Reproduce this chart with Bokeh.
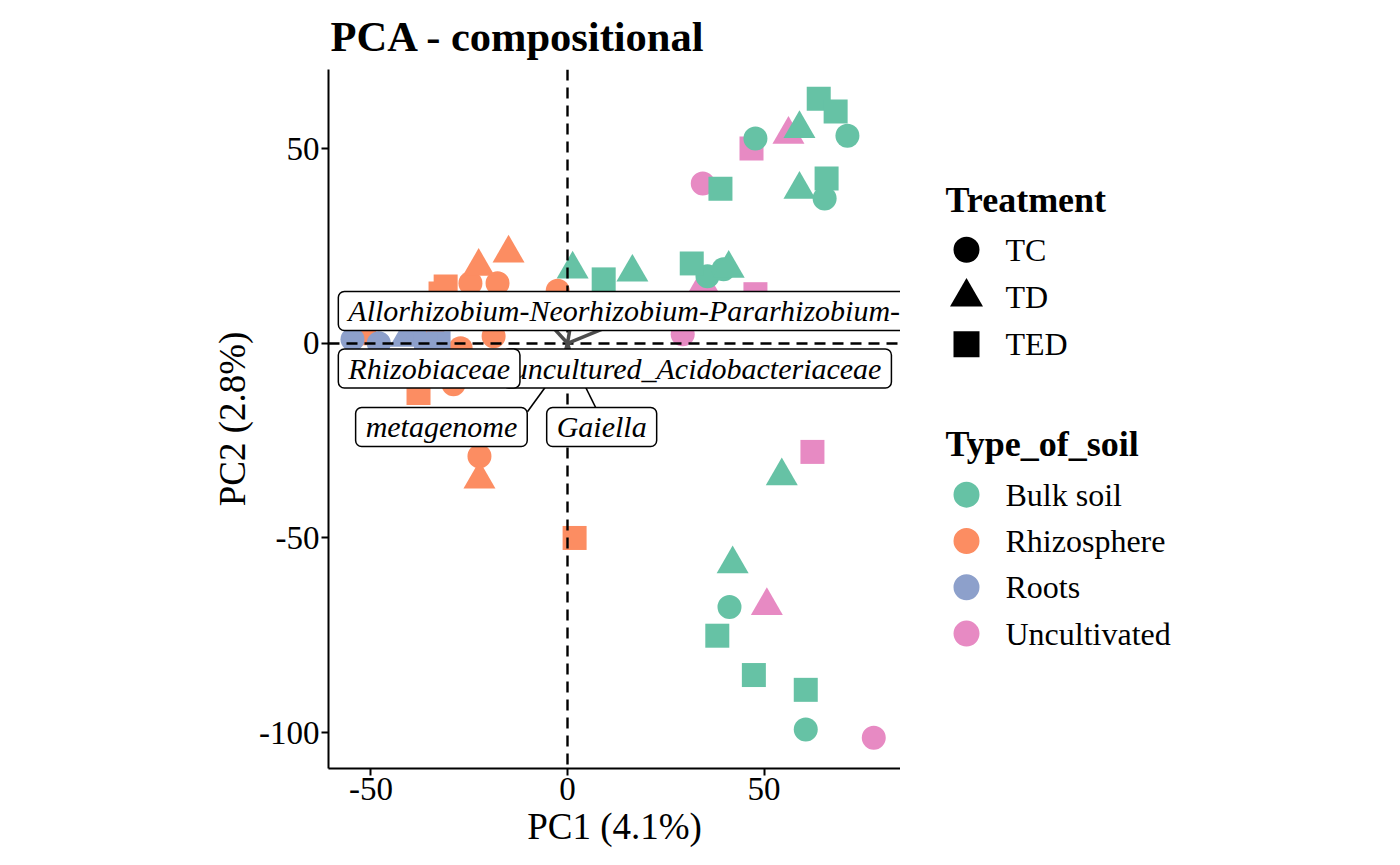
import numpy as np
import pandas as pd
from bokeh.plotting import figure
from bokeh.layouts import row
from bokeh.models import ColumnDataSource, FixedTicker, CustomJSTickFormatter
from bokeh.transform import factor_cmap, factor_mark
from bokeh.core.properties import value
from bokeh.embed import file_html
from bokeh.resources import INLINE

# ---------------- data ----------------
title = "PCA - compositional"
x_label = "PC1 (4.1%)"
y_label = "PC2 (2.8%)"

treatments = ["TC", "TD", "TED"]
treatment_markers = ["circle", "triangle", "square"]
soils = ["Bulk soil", "Rhizosphere", "Roots", "Uncultivated"]
soil_colors = ["#66C2A5", "#FC8D62", "#8DA0CB", "#E78AC3"]
legend_titles = ["Treatment", "Type_of_soil"]

x_ticks = [-50, 0, 50]
y_ticks = [-100, -50, 0, 50]

# Uncultivated
unc_pc1 = [34.4, 29.3, 77.9, 56.2, 34.6, 50.7, 46.8, 47.8, 62.3]
unc_pc2 = [41.0, 2.3, -101.3, 53.6, 15.1, -67.4, 50.0, 12.6, -27.9]
unc_trt = ["TC", "TC", "TC", "TD", "TD", "TD", "TED", "TED", "TED"]

# Bulk soil
bulk_pc1 = [47.8, 71.2, 65.4, 35.6, 39.7, 41.2, 60.6,
            59.0, 59.0, 1.3, 16.5, 41.0, 54.5, 42.0,
            63.9, 68.2, 65.9, 38.9, 9.2, 31.6, 38.1, 47.4, 60.6]
bulk_pc2 = [52.6, 53.3, 37.2, 17.2, 19.0, -67.7, -99.2,
            55.1, 39.5, 19.0, 18.2, 19.2, -34.1, -56.7,
            62.8, 59.5, 42.3, 39.7, 16.4, 20.5, -75.1, -85.2, -89.0]
bulk_trt = ["TC"] * 7 + ["TD"] * 7 + ["TED"] * 9

# Rhizosphere
rhizo_pc1 = [-17.8, -24.7, -18.8, -27.2, -22.4, -2.5, -29.0,
             -15.0, -22.6, -22.4,
             -31.0, -32.3, -37.9, 1.8, -51.7, -34.4]
rhizo_pc2 = [15.4, 15.4, 1.8, -1.3, -29.0, 13.5, -10.5,
             23.1, 19.7, -34.9,
             14.6, 12.8, -12.8, -50.0, 2.6, 2.6]
rhizo_trt = ["TC"] * 7 + ["TD"] * 3 + ["TED"] * 6

# Roots
roots_pc1 = [-54.7, -48.0, -41.2, -38.0, -32.8, -36.0]
roots_pc2 = [1.0, 0.0, 1.5, 1.8, 0.0, -0.5]
roots_trt = ["TC", "TC", "TD", "TD", "TED", "TED"]

# Loadings (arrows) and their repelled labels (the long label is cut at the panel edge)
taxa = ["uncultured_Acidobacteriaceae", "Rhizobiaceae",
        "Allorhizobium-Neorhizobium-Pararhizobium-",
        "metagenome", "Gaiella"]
load_pc1 = [1.0, -5.0, 11.0, -1.5, 1.5]
load_pc2 = [6.0, 5.5, 4.5, -5.5, -5.0]
label_x = [-16.5, -58.3, -58.3, -53.9, -5.3]
label_y = [-6.5, -6.5, 8.3, -21.5, -21.5]
seg_taxa = ["metagenome", "Gaiella"]
seg_end_x = [-10.2, 7.6]
seg_end_y = [-17.6, -17.4]

# ---------------- build ----------------
df = pd.DataFrame({
    "pc1": unc_pc1 + bulk_pc1 + rhizo_pc1 + roots_pc1,
    "pc2": unc_pc2 + bulk_pc2 + rhizo_pc2 + roots_pc2,
    "treatment": unc_trt + bulk_trt + rhizo_trt + roots_trt,
    "soil": (["Uncultivated"] * len(unc_pc1) + ["Bulk soil"] * len(bulk_pc1)
             + ["Rhizosphere"] * len(rhizo_pc1) + ["Roots"] * len(roots_pc1)),
})
marker_size = {"circle": 24, "triangle": 32, "square": 24}
df["size"] = [marker_size[treatment_markers[treatments.index(t)]] for t in df["treatment"]]
src = ColumnDataSource(df)

FONT = "Liberation Serif"
H = 860
FRAME_TOP, FRAME_BOTTOM = 66, 768

p = figure(width=900, height=H, x_range=(-60.8, 84.7), y_range=(-109.2, 70.3),
           output_backend="svg", toolbar_location=None, title=title,
           min_border_left=328, min_border_right=0, min_border_top=FRAME_TOP,
           min_border_bottom=H - FRAME_BOTTOM)
p.xgrid.visible = False
p.ygrid.visible = False
p.outline_line_color = None

p.title.text_font = FONT
p.title.text_font_size = "42.5px"
p.title.text_font_style = "bold"
p.title.text_color = "black"
p.title.align = "left"
p.title.standoff = 20
p.title.offset = 2

p.xaxis.axis_label = x_label
p.yaxis.axis_label = y_label
p.xaxis.ticker = FixedTicker(ticks=x_ticks)
p.yaxis.ticker = FixedTicker(ticks=y_ticks)
for ax in (p.xaxis[0], p.yaxis[0]):
    ax.formatter = CustomJSTickFormatter(code="return String(tick)")
    ax.axis_line_width = 2
    ax.axis_line_color = "black"
    ax.major_tick_line_width = 2
    ax.major_tick_line_color = "black"
    ax.major_tick_out = 7
    ax.major_tick_in = 0
    ax.minor_tick_out = 0
    ax.minor_tick_in = 0
    ax.major_label_text_font = FONT
    ax.major_label_text_font_size = "33px"
    ax.major_label_text_color = "black"
    ax.major_label_standoff = 2
    ax.axis_label_text_font = FONT
    ax.axis_label_text_font_size = "37px"
    ax.axis_label_text_font_style = "normal"
    ax.axis_label_text_color = "black"
    ax.axis_label_standoff = 3

# points
p.scatter("pc1", "pc2", source=src, size="size",
          marker=factor_mark("treatment", treatment_markers, treatments),
          fill_color=factor_cmap("soil", soil_colors, soils), line_color=None)

# reference lines
p.hspan(y=[0], line_color="black", line_width=2.4, line_dash="11 7")
p.vspan(x=[0], line_color="black", line_width=2.4, line_dash="11 7")

# loading arrows
p.segment(x0=[0] * len(taxa), y0=[0] * len(taxa), x1=load_pc1, y1=load_pc2,
          line_color="#4D4D4D", line_width=3.5)

# repel segments
tip_x = [load_pc1[taxa.index(t)] for t in seg_taxa]
tip_y = [load_pc2[taxa.index(t)] for t in seg_taxa]
p.segment(x0=tip_x, y0=tip_y, x1=seg_end_x, y1=seg_end_y, line_color="black", line_width=1.6)

# labels
p.text(x=label_x, y=label_y, text=taxa, text_font=value(FONT), text_font_style="italic",
       text_font_size="30px", text_align="left", text_baseline="middle", text_color="black",
       background_fill_color="white", border_line_color="black", border_line_width=1.5,
       border_radius=6, padding=dict(left=10, right=10, top=3, bottom=3))

# ---------------- legend panel (frame aligned with the plot frame) ----------------
LW = 490
lg = figure(width=LW, height=H, x_range=(0, LW), y_range=(FRAME_BOTTOM, FRAME_TOP),
            output_backend="svg", toolbar_location=None, min_border=0,
            min_border_top=FRAME_TOP, min_border_bottom=H - FRAME_BOTTOM,
            x_axis_location=None, y_axis_location=None)
lg.xgrid.visible = False
lg.ygrid.visible = False
lg.outline_line_color = None

leg_left = 45          # left edge of legend titles (px in this panel)
key_dx = 21            # key centre offset from leg_left
text_dx = 60           # label start offset from leg_left
blocks = [
    # (title, labels, markers, colors, title_y, first_row_y, row_step)  -- page pixels
    (legend_titles[0], treatments, treatment_markers, ["black"] * 3, 197, 247, 47.5),
    (legend_titles[1], soils, ["circle"] * 4, soil_colors, 442, 493, 46.5),
]
key_size = {"circle": 26, "triangle": 33, "square": 26}
for ttl, labs, marks, cols, ty, y0, step in blocks:
    lg.text(x=[leg_left], y=[ty], text=[ttl], text_font=value(FONT), text_font_style="bold",
            text_font_size="36px", text_align="left", text_baseline="middle", text_color="black")
    ys = [y0 + i * step for i in range(len(labs))]
    lg.scatter(x=[leg_left + key_dx] * len(labs), y=ys, marker=marks,
               size=[key_size[m] for m in marks], fill_color=cols, line_color=None)
    lg.text(x=[leg_left + text_dx] * len(labs), y=ys, text=labs, text_font=value(FONT),
            text_font_size="32px", text_align="left", text_baseline="middle", text_color="black")

layout = row(p, lg)
open("out.html", "w").write(file_html(layout, INLINE))
